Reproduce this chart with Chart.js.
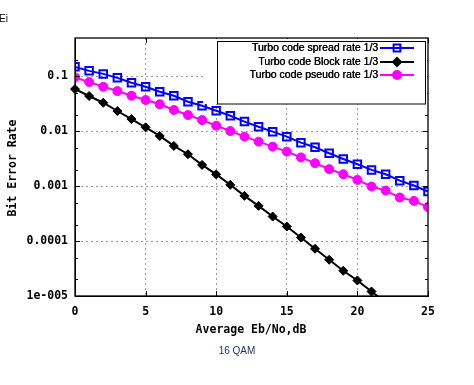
<!DOCTYPE html>
<html>
<head>
<meta charset="utf-8">
<script src="https://cdn.jsdelivr.net/npm/chart.js"></script>
<style>
  body { margin: 0; background: #fff; }
  #wrap { position: relative; width: 474px; height: 385px; }
</style>
</head>
<body>
<div id="wrap"><canvas id="ber" width="474" height="385"></canvas></div>
<script>
// Eb/No values (dB)
var ebno = [0, 1, 2, 3, 4, 5, 6, 7, 8, 9, 10, 11, 12, 13, 14, 15, 16, 17, 18, 19, 20, 21, 22, 23, 24, 25];
var ebnoBlock = [0, 1, 2, 3, 4, 5, 6, 7, 8, 9, 10, 11, 12, 13, 14, 15, 16, 17, 18, 19, 20, 21, 22];

// BER
var spread = [0.149, 0.126, 0.111, 0.094, 0.0765, 0.0647, 0.0525, 0.0444, 0.0345, 0.0292,
              0.0237, 0.0192, 0.0150, 0.0121, 0.00984, 0.00798, 0.00621, 0.00512, 0.00398, 0.00313,
              0.00251, 0.00198, 0.00165, 0.00126, 0.00103, 0.000798];
var block = [0.0587, 0.0439, 0.0331, 0.0234, 0.0167, 0.0118, 0.00822, 0.00541, 0.00382, 0.00244,
             0.00164, 0.00106, 0.000667, 0.000438, 0.00028, 0.000184, 0.000116, 0.0000724, 0.0000457, 0.0000288,
             0.0000192, 0.0000121, 0.0000076];
var pseudo = [0.0959, 0.0787, 0.0647, 0.0541, 0.0444, 0.0371, 0.0310, 0.0244, 0.0198, 0.0160,
              0.01264, 0.0101, 0.00798, 0.00648, 0.00525, 0.00426, 0.00334, 0.00262, 0.00204, 0.00165,
              0.0013, 0.000985, 0.000832, 0.000621, 0.00054, 0.000415];

var legendLabels = ['Turbo code spread rate 1/3', 'Turbo code Block rate 1/3', 'Turbo code pseudo rate 1/3'];
var yTickValues = [0.00001, 0.0001, 0.001, 0.01, 0.1];
var yTickLabels = ['1e-005', '0.0001', '0.001', '0.01', '0.1'];
var yMinorValues = [0.00002, 0.00005, 0.0002, 0.0005, 0.002, 0.005, 0.02, 0.05, 0.2];
var xTickValues = [0, 5, 10, 15, 20, 25];

function toPoints(xs, ys) {
  var pts = [];
  for (var i = 0; i < ys.length; i++) pts.push({ x: xs[i], y: ys[i] });
  return pts;
}

var monoFont = { family: 'DejaVu Sans Mono', size: 11.5, weight: 'bold' };

// frame, inward ticks, titles and the key
var decorPlugin = {
  id: 'decor',
  afterDraw: function (chart) {
    var ctx = chart.ctx, a = chart.chartArea;
    var xs = chart.scales.x, ys = chart.scales.y;
    ctx.save();
    ctx.strokeStyle = '#000';
    ctx.lineWidth = 1.3;
    ctx.strokeRect(a.left, a.top, a.right - a.left, a.bottom - a.top);

    ctx.lineWidth = 1;
    ctx.beginPath();
    xTickValues.forEach(function (v) {
      var px = Math.round(xs.getPixelForValue(v)) + 0.5;
      ctx.moveTo(px, a.bottom); ctx.lineTo(px, a.bottom - 5);
      ctx.moveTo(px, a.top); ctx.lineTo(px, a.top + 5);
    });
    yTickValues.forEach(function (v) {
      var py = Math.round(ys.getPixelForValue(v)) + 0.5;
      ctx.moveTo(a.left, py); ctx.lineTo(a.left + 5, py);
      ctx.moveTo(a.right, py); ctx.lineTo(a.right - 5, py);
    });
    yMinorValues.forEach(function (v) {
      var py = Math.round(ys.getPixelForValue(v)) + 0.5;
      ctx.moveTo(a.left, py); ctx.lineTo(a.left + 3, py);
      ctx.moveTo(a.right, py); ctx.lineTo(a.right - 3, py);
    });
    ctx.stroke();

    // axis titles
    ctx.fillStyle = '#000';
    ctx.font = 'bold 11.5px "DejaVu Sans Mono"';
    ctx.textAlign = 'center';
    ctx.textBaseline = 'middle';
    ctx.fillText('Average Eb/No,dB', 251, 330);
    ctx.save();
    ctx.translate(13, 168);
    ctx.rotate(-Math.PI / 2);
    ctx.fillText('Bit Error Rate', 0, 0);
    ctx.restore();

    ctx.font = '10px "Liberation Sans"';
    ctx.fillStyle = '#1f2d5a';
    ctx.fillText('16 QAM', 237, 351);
    ctx.textAlign = 'left';
    ctx.fillStyle = '#000';
    ctx.fillText('Ei', -1, 19);

    // key
    ctx.fillStyle = '#fff';
    ctx.fillRect(203, a.top + 1, 224, 65);
    ctx.strokeStyle = '#000';
    ctx.lineWidth = 1;
    ctx.strokeRect(217.5, 41.5, 208, 62.5);
    var rows = [48, 62, 75];
    ctx.font = '10.5px "Liberation Sans"';
    ctx.textAlign = 'right';
    chart.data.datasets.forEach(function (ds, i) {
      var y = rows[i];
      ctx.fillStyle = '#000';
      ctx.fillText(legendLabels[i], 378, y);
      ctx.fillText(legendLabels[i], 378.4, y);
      ctx.strokeStyle = ds.borderColor;
      ctx.lineWidth = 2;
      ctx.beginPath();
      ctx.moveTo(380, y); ctx.lineTo(414, y);
      ctx.stroke();
      ctx.fillStyle = ds.pointBackgroundColor;
      Chart.helpers.drawPoint(ctx, {
        pointStyle: ds.pointStyle, radius: ds.pointRadius - 0.5, rotation: 0, borderWidth: ds.pointBorderWidth
      }, 397, y);
    });
    ctx.restore();
  }
};

new Chart(document.getElementById('ber'), {
  type: 'line',
  data: {
    datasets: [
      {
        label: legendLabels[0],
        data: toPoints(ebno, spread),
        borderColor: '#0000ff',
        borderWidth: 2,
        pointStyle: 'rect',
        pointRadius: 5.3,
        pointBorderWidth: 2,
        pointBorderColor: '#0000ff',
        pointBackgroundColor: 'rgba(0,0,0,0)'
      },
      {
        label: legendLabels[1],
        data: toPoints(ebnoBlock, block),
        borderColor: '#000000',
        borderWidth: 2,
        pointStyle: 'rectRot',
        pointRadius: 4.5,
        pointBorderWidth: 1,
        pointBorderColor: '#000000',
        pointBackgroundColor: '#000000',
        clip: { left: false, top: false, right: false, bottom: 0 }
      },
      {
        label: legendLabels[2],
        data: toPoints(ebno, pseudo),
        borderColor: '#ff00ff',
        borderWidth: 2,
        pointStyle: 'circle',
        pointRadius: 4.5,
        pointBorderWidth: 1,
        pointBorderColor: '#ff00ff',
        pointBackgroundColor: '#ff00ff'
      }
    ]
  },
  options: {
    responsive: false,
    animation: false,
    layout: { padding: { left: 0, top: 38, right: 46, bottom: 0 } },
    plugins: {
      legend: { display: false },
      tooltip: { enabled: false }
    },
    scales: {
      x: {
        type: 'linear',
        min: 0,
        max: 25,
        ticks: { stepSize: 5, color: '#000', font: monoFont, padding: 9, maxRotation: 0 },
        grid: {
          drawTicks: false,
          color: function (c) { return (c.tick && (c.tick.value === 0 || c.tick.value === 25)) ? 'rgba(0,0,0,0)' : '#9a9a9a'; },
          lineWidth: 1
        },
        border: { display: true, color: '#000', width: 1, dash: [2, 3] },
        afterFit: function (s) { s.height = 89; }
      },
      y: {
        type: 'logarithmic',
        min: 0.00001,
        max: 0.5,
        afterBuildTicks: function (s) {
          s.ticks = yTickValues.map(function (v) { return { value: v, major: true }; });
        },
        ticks: {
          color: '#000',
          font: monoFont,
          padding: 7,
          autoSkip: false,
          callback: function (v) {
            var i = yTickValues.indexOf(v);
            return i >= 0 ? yTickLabels[i] : '';
          }
        },
        grid: {
          drawTicks: false,
          color: function (c) { return (c.tick && c.tick.value === 0.00001) ? 'rgba(0,0,0,0)' : '#9a9a9a'; },
          lineWidth: 1
        },
        border: { display: true, color: '#000', width: 1, dash: [2, 3] },
        afterFit: function (s) { s.width = 75; }
      }
    }
  },
  plugins: [decorPlugin]
});
</script>
</body>
</html>
